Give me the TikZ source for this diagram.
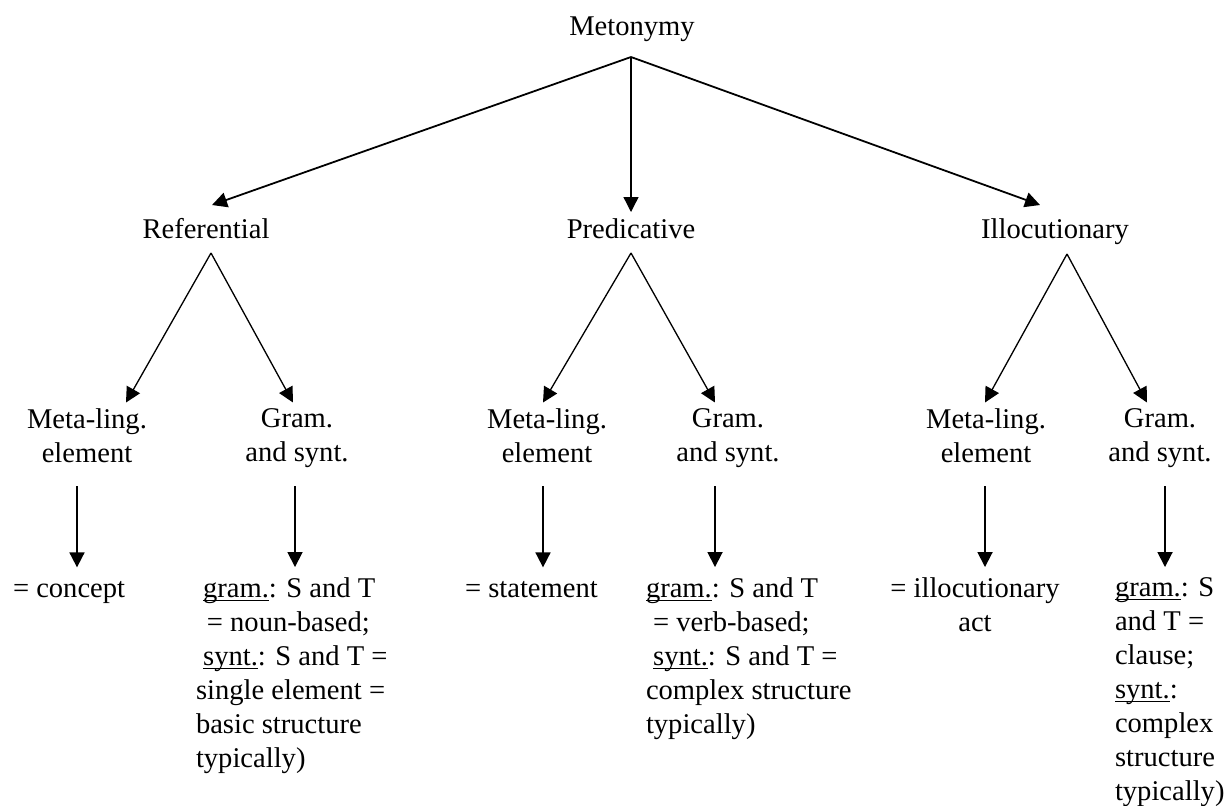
\documentclass[tikz,border=0pt]{standalone}
\usepackage{fontspec}
\setmainfont{Liberation Serif}
\usepackage{tikz}
\usetikzlibrary{arrows.meta, positioning, calc}
\newcommand{\subr}[1]{\underline{\smash{#1}}}

\begin{document}
\begin{tikzpicture}[x=0.42pt, y=-0.42pt,
    texto/.style={font=\fontsize{12}{14.3}\selectfont, inner sep=0pt, outer sep=0pt},
    flecha/.style={-{Triangle[length=6.3pt,width=6.3pt]}, line width=0.75pt},
    flechafina/.style={-{Triangle[length=6.3pt,width=6.3pt]}, line width=0.55pt}]
    \useasboundingbox (0,0) rectangle (1227,805);
    % Nivel superior
    \node[texto, anchor=base] (meto) at (632,35) {Metonymy};
    \node[texto, anchor=base] (ref) at (206,238) {Referential};
    \node[texto, anchor=base] (pred) at (631,238) {Predicative};
    \node[texto, anchor=base] (ilo) at (1055,238) {Illocutionary};
    \coordinate (meto-o) at ($(meto.base)+(-1,22)$);
    \draw[flecha] (meto-o) -- ($(ref.base)+(6,-33)$);
    \draw[flechafina] (meto-o) -- ($(pred.base)+(0,-26)$);
    \draw[flecha] (meto-o) -- ($(ilo.base)+(-15,-33)$);
    % Segundo nivel
    \foreach \n/\x in {rm/87, pm/547, im/986} {
        \node[texto, align=center, anchor=north] (\n) at (\x,408.5) {Meta-ling.\\element};
    }
    \foreach \n/\x in {rg/297, pg/728, ig/1160} {
        \node[texto, align=center, anchor=north] (\n) at (\x,408.5) {Gram.\\and synt.};
    }
    \coordinate (ref-o) at ($(ref.base)+(5,15)$);
    \coordinate (pred-o) at ($(pred.base)+(0,15)$);
    \coordinate (ilo-o) at ($(ilo.base)+(12,16)$);
    \draw[flechafina] (ref-o) -- ($(rm.north)+(39,-6)$);
    \draw[flechafina] (ref-o) -- ($(rg.north)+(-4,-6)$);
    \draw[flechafina] (pred-o) -- ($(pm.north)+(-4,-6)$);
    \draw[flechafina] (pred-o) -- ($(pg.north)+(-13,-6)$);
    \draw[flechafina] (ilo-o) -- ($(im.north)+(-1,-6)$);
    \draw[flechafina] (ilo-o) -- ($(ig.north)+(-13,-6)$);
    % Textos de abajo
    \node[texto, anchor=base west] (rc) at (13,597) {= concept};
    \node[texto, align=left, anchor=north west] (rgt) at (196,577.5) {\hspace*{3pt}\subr{gram.}: S and T\\
        \hspace*{4.6pt}= noun-based;\\ \hspace*{3pt}\subr{synt.}: S and T =\\
        single element =\\ basic structure\\ typically)};
    \node[texto, anchor=base west] (ps) at (465,597) {= statement};
    \node[texto, align=left, anchor=north west] (pgt) at (646,577.5) {\subr{gram.}: S and T\\
        \hspace*{3pt}= verb-based;\\ \hspace*{3pt}\subr{synt.}: S and T =\\
        complex structure\\ typically)};
    \node[texto, align=center, anchor=north] (ia) at (975,577.5) {= illocutionary\\act};
    \node[texto, align=left, anchor=north west] (igt) at (1115,577.5) {\subr{gram.}: S\\ and T =\\ clause;\\
        \subr{synt.}:\\ complex\\ structure\\ typically)};
    % Flechas verticales
    \foreach \a/\b/\dx/\s in {rm/rc/-10/5.7, rg/rgt/-2/4.4, pm/ps/-4/5.7, pg/pgt/-13/4.4, im/ia/-1/4.4, ig/igt/5/4.4} {
        \coordinate (\a-o) at ($(\a.north)+(\dx,77.5)$);
        \draw[flecha, shorten >=\s pt] (\a-o) -- (\a-o |- \b.north);
    }
\end{tikzpicture}
\end{document}
